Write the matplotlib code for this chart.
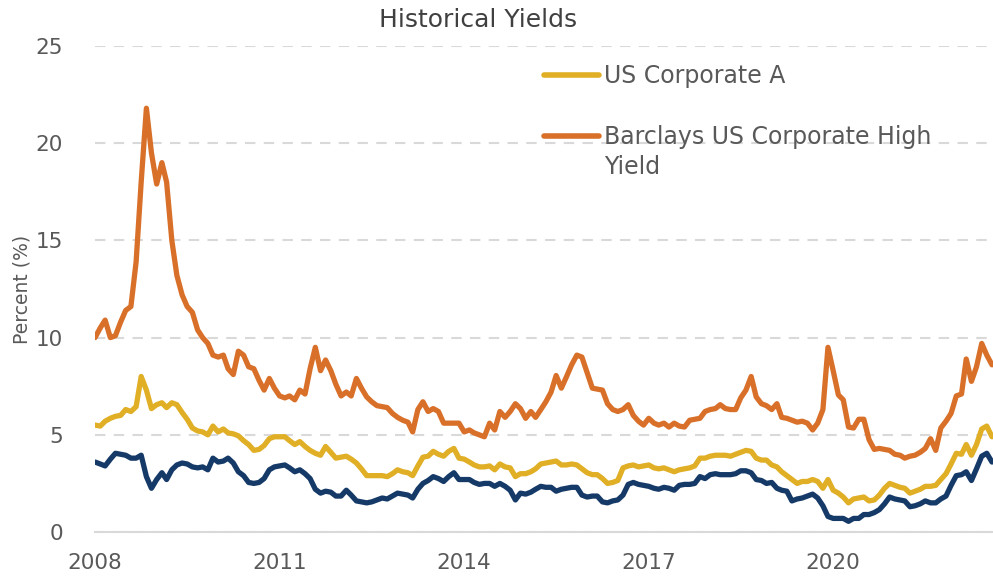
import matplotlib.pyplot as plt
import pandas as pd

# monthly yields (%), Jan 2008 - Aug 2022
high_yield = [
    10.0, 10.5, 10.9, 10.0, 10.1, 10.8, 11.4, 11.6, 13.9, 18.0, 21.8, 19.5,
    17.9, 19.0, 18.0, 15.0, 13.2, 12.2, 11.6, 11.3, 10.4, 10.0, 9.7, 9.1,
    9.0, 9.1, 8.4, 8.1, 9.3, 9.1, 8.5, 8.4, 7.8, 7.3, 7.9, 7.4,
    7.0, 6.9, 7.0, 6.8, 7.3, 7.1, 8.4, 9.5, 8.3, 8.85, 8.3, 7.6,
    7.0, 7.2, 7.0, 7.9, 7.4, 6.95, 6.7, 6.5, 6.45, 6.4, 6.1, 5.9,
    5.75, 5.65, 5.15, 6.3, 6.7, 6.2, 6.35, 6.2, 5.6, 5.6, 5.6, 5.6,
    5.15, 5.25, 5.1, 5.0, 4.9, 5.6, 5.25, 6.2, 5.9, 6.2, 6.6, 6.35,
    5.85, 6.2, 5.9, 6.3, 6.7, 7.2, 8.05, 7.4, 8.0, 8.6, 9.1, 9.0,
    8.2, 7.4, 7.35, 7.3, 6.6, 6.3, 6.2, 6.3, 6.55, 6.0, 5.7, 5.5,
    5.85, 5.6, 5.5, 5.6, 5.4, 5.6, 5.45, 5.4, 5.75, 5.8, 5.85, 6.2,
    6.3, 6.35, 6.55, 6.35, 6.3, 6.3, 6.9, 7.3, 8.0, 6.95, 6.6, 6.5,
    6.3, 6.6, 5.9, 5.85, 5.75, 5.65, 5.7, 5.6, 5.25, 5.6, 6.3, 9.5,
    8.3, 7.05, 6.8, 5.4, 5.35, 5.8, 5.8, 4.75, 4.25, 4.3, 4.25, 4.2,
    4.0, 3.95, 3.8, 3.9, 3.95, 4.1, 4.3, 4.8, 4.2, 5.35, 5.7, 6.1,
    7.0, 7.1, 8.9, 7.75, 8.5, 9.7, 9.1, 8.6,
]
corp_a = [
    5.5, 5.45, 5.7, 5.85, 5.95, 6.0, 6.3, 6.2, 6.45, 8.0, 7.3, 6.35,
    6.55, 6.65, 6.4, 6.65, 6.55, 6.15, 5.8, 5.35, 5.2, 5.15, 5.0, 5.45,
    5.15, 5.3, 5.1, 5.05, 4.95, 4.7, 4.5, 4.2, 4.25, 4.45, 4.8, 4.9,
    4.9, 4.9, 4.7, 4.5, 4.65, 4.4, 4.2, 4.05, 3.95, 4.4, 4.1, 3.8,
    3.85, 3.9, 3.75, 3.55, 3.25, 2.9, 2.9, 2.9, 2.9, 2.85, 3.0, 3.2,
    3.1, 3.05, 2.9, 3.4, 3.85, 3.9, 4.15, 4.0, 3.9, 4.15, 4.3, 3.8,
    3.75, 3.6, 3.45, 3.35, 3.35, 3.4, 3.2, 3.5, 3.35, 3.3, 2.85, 3.0,
    3.0, 3.1, 3.25, 3.5, 3.55, 3.6, 3.65, 3.45, 3.45, 3.5, 3.45, 3.25,
    3.05, 2.95, 2.95, 2.75, 2.5, 2.55, 2.65, 3.3, 3.4, 3.45, 3.35, 3.4,
    3.45, 3.3, 3.25, 3.3, 3.2, 3.1, 3.2, 3.25, 3.3, 3.4, 3.8, 3.8,
    3.9, 3.95, 3.95, 3.95, 3.9, 4.0, 4.1, 4.2, 4.15, 3.8, 3.7, 3.7,
    3.45, 3.35, 3.1, 2.9, 2.7, 2.5, 2.6, 2.6, 2.7, 2.6, 2.25, 2.7,
    2.15, 2.0, 1.8, 1.5, 1.7, 1.75, 1.8, 1.6, 1.65, 1.9, 2.25, 2.5,
    2.4, 2.3, 2.25, 2.0, 2.1, 2.2, 2.35, 2.35, 2.4, 2.7, 3.0, 3.5,
    4.05, 4.0, 4.5, 3.95, 4.5, 5.3, 5.45, 4.9,
]
treasury = [
    3.6, 3.5, 3.4, 3.75, 4.05, 4.0, 3.95, 3.8, 3.8, 3.95, 2.85, 2.25,
    2.7, 3.05, 2.7, 3.2, 3.45, 3.55, 3.5, 3.35, 3.3, 3.35, 3.2, 3.8,
    3.6, 3.65, 3.8, 3.55, 3.1, 2.9, 2.55, 2.5, 2.55, 2.75, 3.2, 3.35,
    3.4, 3.45, 3.3, 3.1, 3.2, 3.0, 2.75, 2.2, 2.0, 2.1, 2.05, 1.85,
    1.85, 2.15, 1.9, 1.6, 1.55, 1.5, 1.55, 1.65, 1.75, 1.7, 1.85, 2.0,
    1.95, 1.9, 1.75, 2.2, 2.5, 2.65, 2.85, 2.75, 2.6, 2.85, 3.05, 2.7,
    2.7, 2.7, 2.55, 2.45, 2.5, 2.5, 2.35, 2.5, 2.35, 2.15, 1.65, 2.0,
    1.95, 2.05, 2.2, 2.35, 2.3, 2.3, 2.1, 2.2, 2.25, 2.3, 2.3, 1.9,
    1.8, 1.85, 1.85, 1.55, 1.5, 1.6, 1.65, 1.9, 2.45, 2.55, 2.45, 2.4,
    2.35, 2.25, 2.2, 2.3, 2.25, 2.15, 2.4, 2.45, 2.45, 2.5, 2.85, 2.75,
    2.95, 3.0, 2.95, 2.95, 2.95, 3.0, 3.15, 3.15, 3.05, 2.7, 2.65, 2.5,
    2.55, 2.25, 2.15, 2.1, 1.6, 1.7, 1.75, 1.85, 1.95, 1.75, 1.35, 0.8,
    0.7, 0.7, 0.7, 0.55, 0.7, 0.7, 0.9, 0.9, 1.0, 1.15, 1.45, 1.8,
    1.7, 1.65, 1.6, 1.3, 1.35, 1.45, 1.6, 1.5, 1.5, 1.7, 1.85, 2.4,
    2.9, 2.95, 3.1, 2.65, 3.25, 3.9, 4.05, 3.6,
]
months = pd.date_range("2008-01-01", periods=len(high_yield), freq="MS")
tick_years = [2008, 2011, 2014, 2017, 2020]

plt.rcParams['font.family'] = ['DejaVu Sans']
grey = '#595959'

fig = plt.figure(figsize=(9.93, 5.81), dpi=100)
ax = fig.add_axes([0.0957, 0.0843, 0.9043, 0.8365])

ax.plot(months, treasury, color='#163A68', lw=3.8, solid_capstyle='round')
ax.plot(months, corp_a, color='#E0AF25', lw=3.8, solid_capstyle='round', label='US Corporate A')
ax.plot(months, high_yield, color='#D9702A', lw=3.8, solid_capstyle='round',
        label='Barclays US Corporate High')

ax.set_ylim(0, 25)
ax.set_yticks(range(0, 26, 5))
ax.set_xlim(months[0], pd.Timestamp('2022-08-07'))
ax.set_xticks([pd.Timestamp(f'{y}-01-01') for y in tick_years])
ax.set_xticklabels([str(y) for y in tick_years])

ax.grid(axis='y', color='#D9D9D9', linestyle=(0, (5, 4)), linewidth=1.5)
ax.set_axisbelow(True)
for s in ['top', 'right', 'left']:
    ax.spines[s].set_visible(False)
ax.spines['bottom'].set_color('#D9D9D9')
ax.spines['bottom'].set_linewidth(1.5)
ax.tick_params(length=0, labelsize=15.5, colors=grey)
ax.tick_params(axis='y', pad=23)
ax.tick_params(axis='x', pad=15)
ax.set_ylabel('Percent (%)', fontsize=13.5, color=grey, labelpad=3)

fig.text(0.481, 0.965, 'Historical Yields', ha='center', va='center', fontsize=18, color='#404040')

leg = ax.legend(loc='upper left', bbox_to_anchor=(0.5, 0.962), frameon=False,
                fontsize=17, labelcolor=grey, handlelength=2.33, handletextpad=0.21,
                labelspacing=1.55, borderpad=0, borderaxespad=0)
for h in leg.get_lines():
    h.set_linewidth(4)
    h.set_solid_capstyle('round')
ax.annotate('Yield', xy=(0, 0), xycoords=leg.get_texts()[1], xytext=(0, -4),
            textcoords='offset points', va='top', ha='left', fontsize=17,
            color=grey, zorder=10)

fig.savefig('out.png', dpi=100)
